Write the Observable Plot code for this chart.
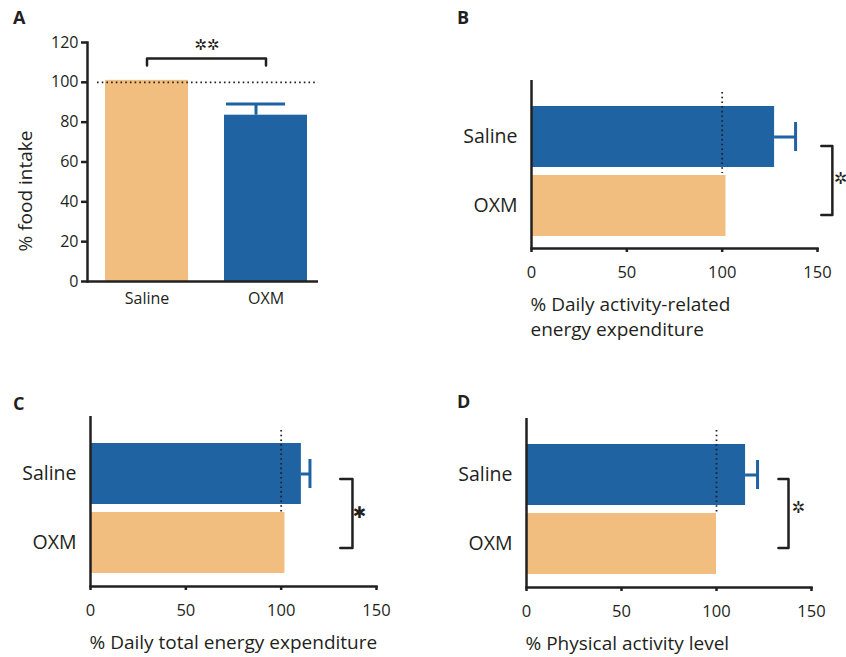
<!DOCTYPE html>
<html><head><meta charset="utf-8">
<script src="https://cdn.jsdelivr.net/npm/d3@7"></script>
<script src="https://cdn.jsdelivr.net/npm/@observablehq/plot@0.6"></script>
<style>
body{margin:0;background:#fff;}
#wrap{position:relative;width:846px;height:657px;font-family:"Open Sans",sans-serif;color:#231f20;overflow:hidden;}
.panel{position:absolute;}
.letter{position:absolute;font-weight:bold;font-size:18px;line-height:1;font-family:"Open Sans",sans-serif;color:#231f20;}
</style></head><body><div id="wrap"></div>
<script>
// ---- data ----
const groups = ["Saline", "OXM"];
const foodIntake = [101, 83.5];
const foodIntakeErr = [null, 5.6];
const activityEE = [127.5, 102];
const activityEEErr = [11, null];
const totalEE = [110.6, 102];
const totalEEErr = [4.5, null];
const physicalActivity = [115.3, 100];
const physicalActivityErr = [6.3, null];
const yTicksA = [0, 20, 40, 60, 80, 100, 120];
const xTicksH = [0, 50, 100, 150];
const panelLetters = ["A", "B", "C", "D"];
const sigMarks = ["\u2732\u2732", "\u2732", "\u2731", "\u2732"];
const axisTitles = ["% food intake", "% Daily activity-related\nenergy expenditure", "% Daily total energy expenditure", "% Physical activity level"];
const referenceLevel = 100;
// significance bracket levels (data units)
const bracketA = {top: 112, bottom: 108.5, star: 118.5};
const bracketB = {inner: 152, outer: 157.8, star: 162};
const bracketC = {inner: 131, outer: 137.4, star: 141};
const bracketD = {inner: 132.6, outer: 137.9, star: 143};

// ---- styles ----
const blue = "#1f63a3";
const orange = "#f1be7f";
const ink = "#231f20";
const font = "'Open Sans', sans-serif";
const wrap = document.getElementById("wrap");

function rows(values, errs) {
  return groups.map((g, i) => ({group: g, value: values[i], err: errs[i]}));
}

// ---- Panel A ----
const dataA = rows(foodIntake, foodIntakeErr);
const errA = dataA.filter(d => d.err != null);
const brA = [
  {group: groups[0], v: bracketA.bottom}, {group: groups[0], v: bracketA.top},
  {group: groups[1], v: bracketA.top}, {group: groups[1], v: bracketA.bottom}
];
const plotA = Plot.plot({
  width: 340, height: 320,
  marginLeft: 87, marginRight: 14, marginTop: 42, marginBottom: 39,
  style: {fontFamily: font, color: ink, background: "transparent", overflow: "visible"},
  x: {domain: groups, paddingInner: 0.3, paddingOuter: 0.15, label: null},
  y: {domain: [0, 120], label: null},
  color: {domain: groups, range: [orange, blue]},
  marks: [
    Plot.barY(dataA, {x: "group", y: "value", fill: "group"}),
    Plot.ruleX(errA, {x: "group", y1: "value", y2: d => d.value + d.err, stroke: blue, strokeWidth: 3, dx: -10}),
    Plot.tickY(errA, {x: "group", y: d => d.value + d.err, stroke: blue, strokeWidth: 3, insetLeft: 12, insetRight: 12, dx: -10}),
    Plot.ruleY([referenceLevel], {insetLeft: 10, insetRight: 8, strokeDasharray: "1.6 3.1", strokeWidth: 1.8, stroke: ink}),
    Plot.ruleY([0], {insetRight: 8, strokeWidth: 2.5, stroke: ink}),
    Plot.frame({anchor: "left", strokeWidth: 2.5, stroke: ink}),
    Plot.axisY({ticks: yTicksA, tickSize: 6, tickPadding: 3, strokeWidth: 2.5, fontSize: 16, label: null}),
    Plot.axisX({tickSize: 0, tickPadding: 11, fontSize: 16, label: null}),
    Plot.line(brA, {x: "group", y: "v", stroke: ink, strokeWidth: 2.5}),
    Plot.text([sigMarks[0]], {x: () => groups[0], y: () => bracketA.star, dx: 60, fontFamily: "DejaVu Sans", fontSize: 15, fill: ink}),
    Plot.text([axisTitles[0]], {frameAnchor: "left", rotate: -90, dx: -62, dy: 29, fontSize: 19, textAnchor: "middle", fill: ink})
  ]
});
plotA.classList.add("panel");
plotA.style.left = "0px"; plotA.style.top = "0px";
wrap.appendChild(plotA);

// ---- Horizontal panels ----
function hPanel(cfg) {
  const data = rows(cfg.values, cfg.errs);
  const err = data.filter(d => d.err != null);
  const br = cfg.bracket;
  const brPts = [
    {group: groups[0], x: br.inner}, {group: groups[0], x: br.outer},
    {group: groups[1], x: br.outer}, {group: groups[1], x: br.inner}
  ];
  const p = Plot.plot({
    width: cfg.width, height: cfg.height,
    marginLeft: cfg.mL, marginRight: cfg.mR, marginTop: cfg.mT, marginBottom: cfg.mB,
    style: {fontFamily: font, color: ink, background: "transparent", overflow: "visible"},
    x: {domain: [0, 150], label: null},
    y: {domain: groups, paddingInner: 0.11, paddingOuter: 0.27, align: 0.68, label: null},
    color: {domain: groups, range: [blue, orange]},
    marks: [
      Plot.barX(data, {x: "value", y: "group", fill: "group"}),
      Plot.ruleY(err, {y: "group", x1: "value", x2: d => d.value + d.err, stroke: blue, strokeWidth: 3}),
      Plot.tickX(err, {y: "group", x: d => d.value + d.err, stroke: blue, strokeWidth: 3, insetTop: 16, insetBottom: 16}),
      Plot.ruleX([referenceLevel], {insetTop: cfg.refTop, insetBottom: cfg.refBottom, strokeDasharray: "1.6 3.1", strokeWidth: 1.8, stroke: ink}),
      Plot.ruleX([0], {strokeWidth: 2.5, stroke: ink}),
      Plot.frame({anchor: "bottom", strokeWidth: 2.5, stroke: ink}),
      Plot.axisX({ticks: xTicksH, tickSize: 4, tickPadding: 14, strokeWidth: 2.5, fontSize: 16.5, label: null}),
      Plot.axisY({tickSize: 0, tickPadding: 14, fontSize: 19.5, label: null}),
      Plot.line(brPts, {x: "x", y: "group", stroke: ink, strokeWidth: 2.5, dy: cfg.brDy}),
      Plot.text([cfg.sig], {x: () => br.star, y: () => groups[0], dy: cfg.starDy, fontFamily: "DejaVu Sans", fontSize: cfg.starSize, fill: ink}),
      Plot.text([cfg.title], {frameAnchor: "bottom-left", textAnchor: "start", lineAnchor: "top", dy: 45, dx: -1, fontSize: 19, lineHeight: 1.3, fill: ink})
    ]
  });
  p.classList.add("panel");
  p.style.left = cfg.left + "px"; p.style.top = cfg.top + "px";
  wrap.appendChild(p);
}

hPanel({values: activityEE, errs: activityEEErr, title: axisTitles[1], sig: sigMarks[1], bracket: bracketB,
  left: 420, top: 0, width: 426, height: 340, mL: 111, mR: 29, mT: 80, mB: 92,
  refTop: 12, refBottom: 75, brDy: 9, starDy: 42, starSize: 16});
hPanel({values: totalEE, errs: totalEEErr, title: axisTitles[2], sig: sigMarks[2], bracket: bracketC,
  left: 0, top: 330, width: 420, height: 327, mL: 90, mR: 44, mT: 86, mB: 71,
  refTop: 14, refBottom: 74, brDy: 5, starDy: 39, starSize: 16});
hPanel({values: physicalActivity, errs: physicalActivityErr, title: axisTitles[3], sig: sigMarks[3], bracket: bracketD,
  left: 420, top: 330, width: 426, height: 327, mL: 106, mR: 35, mT: 88, mB: 70,
  refTop: 12, refBottom: 75, brDy: 4, starDy: 33, starSize: 16});

// ---- panel letters ----
const letterPos = [[13, 8], [457, 8], [13, 394], [457, 392]];
panelLetters.forEach((t, i) => {
  const d = document.createElement("div");
  d.className = "letter";
  d.textContent = t;
  d.style.left = letterPos[i][0] + "px";
  d.style.top = letterPos[i][1] + "px";
  wrap.appendChild(d);
});
</script></body></html>
